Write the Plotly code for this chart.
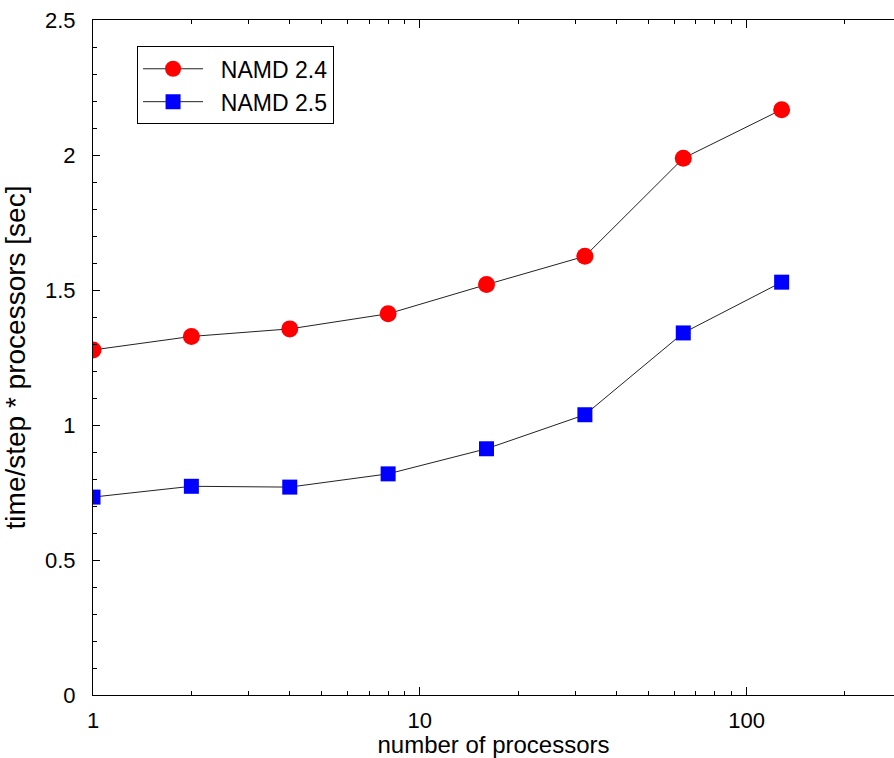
import math
import plotly.graph_objects as go

processors = [1, 2, 4, 8, 16, 32, 64, 128]
namd24 = [1.278, 1.328, 1.356, 1.412, 1.52, 1.625, 1.988, 2.168]
namd25 = [0.733, 0.773, 0.770, 0.819, 0.912, 1.038, 1.341, 1.529]
series_names = ["NAMD 2.4", "NAMD 2.5"]

x_major = [1, 10, 100]
x_minor = [2, 3, 4, 5, 6, 7, 8, 9, 20, 30, 40, 50, 60, 70, 80, 90, 200, 300]
y_major = [0, 0.5, 1, 1.5, 2, 2.5]
y_major_labels = ["0", "0.5", "1", "1.5", "2", "2.5"]

FONT = "Liberation Sans, Arial, sans-serif"
PAD = "\u00a0\u00a0"

fig = go.Figure()
fig.add_trace(go.Scatter(
    x=processors, y=namd24, name=PAD + series_names[0], mode="lines+markers",
    line=dict(color="#222222", width=1),
    marker=dict(symbol="circle", size=17, color="#ff0000", line=dict(width=0)),
))
fig.add_trace(go.Scatter(
    x=processors, y=namd25, name=PAD + series_names[1], mode="lines+markers",
    line=dict(color="#222222", width=1),
    marker=dict(symbol="square", size=15, color="#0000ff", line=dict(width=0)),
))

fig.update_layout(
    width=894, height=758,
    margin=dict(l=93, r=0, t=20, b=63, autoexpand=False),
    paper_bgcolor="white", plot_bgcolor="white",
    font=dict(family=FONT, size=22, color="black"),
    showlegend=True,
    legend=dict(
        x=0.055, y=0.961, xanchor="left", yanchor="top",
        bordercolor="black", borderwidth=1, bgcolor="white",
        font=dict(family=FONT, size=23, color="black"),
        tracegroupgap=0, itemwidth=60,
    ),
)

fig.update_xaxes(
    type="log", range=[0, 2.451],
    tickvals=x_major, ticktext=[str(v) for v in x_major],
    ticks="inside", ticklen=8, tickwidth=1, tickcolor="black",
    minor=dict(tickvals=x_minor, ticks="inside", ticklen=4, tickwidth=1, tickcolor="black", showgrid=False),
    showline=True, linecolor="black", linewidth=1, mirror="ticks",
    showgrid=False, zeroline=False,
    tickfont=dict(family=FONT, size=22),
    ticklabelstandoff=6,
    title=dict(text="number of processors", font=dict(family=FONT, size=24), standoff=6),
)
fig.update_yaxes(
    range=[0, 2.5],
    tickvals=y_major, ticktext=y_major_labels,
    ticks="inside", ticklen=7, tickwidth=1, tickcolor="black",
    minor=dict(dtick=0.1, ticks="inside", ticklen=4, tickwidth=1, tickcolor="black", showgrid=False),
    showline=True, linecolor="black", linewidth=1, mirror=False,
    showgrid=False, zeroline=False,
    tickfont=dict(family=FONT, size=22),
    ticklabelstandoff=12,
    title=dict(text="time/step * processors [sec]", font=dict(family=FONT, size=28), standoff=12),
)

fig.write_html("out.html")
